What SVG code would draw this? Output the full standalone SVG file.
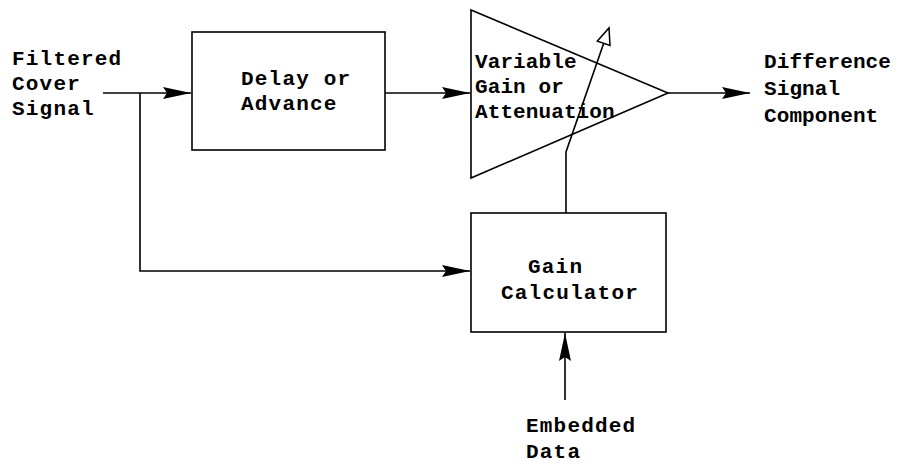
<svg xmlns="http://www.w3.org/2000/svg" width="900" height="464" viewBox="0 0 900 464">
<style>
text{font-family:"Liberation Mono","Courier New",monospace;font-weight:bold;font-size:21px;letter-spacing:1.2px;fill:#000}
.t{letter-spacing:0.1px}
.s{fill:none;stroke:#000;stroke-width:1.6}
.b{fill:#fff;stroke:#000;stroke-width:1.6}
</style>
<defs>
<marker id="ah" markerUnits="userSpaceOnUse" markerWidth="30" markerHeight="14" refX="28" refY="6" orient="auto" viewBox="0 0 30 12">
<path d="M0,0 L28,6 L0,12 L4,6 Z" fill="#000"/>
</marker>
<marker id="oh" markerUnits="userSpaceOnUse" markerWidth="20" markerHeight="16" refX="17" refY="7" orient="auto" viewBox="-2 -1 21 16">
<path d="M0,0 L17,7 L0,14 Z" fill="#fff" stroke="#000" stroke-width="1.6"/>
</marker>
</defs>
<g id="input-label">
<text x="12" y="65">Filtered</text>
<text x="12" y="90">Cover</text>
<text x="12" y="115">Signal</text>
</g>
<g id="delay">
<rect class="b" x="192" y="32" width="193" height="118"/>
<text x="241" y="85">Delay or</text>
<text x="241" y="110">Advance</text>
</g>
<g id="amplifier">
<polygon class="b" points="471,10 471,178 668,93"/>
<text x="475" y="68" class="t">Variable</text>
<text x="475" y="93" class="t">Gain or</text>
<text x="475" y="118" class="t">Attenuation</text>
</g>
<g id="gain-calculator">
<rect class="b" x="471" y="213" width="195" height="119"/>
<text x="528" y="273">Gain</text>
<text x="501" y="299">Calculator</text>
</g>
<g id="output-label">
<text x="764" y="68" class="t">Difference</text>
<text x="764" y="95" class="t">Signal</text>
<text x="764" y="122" class="t">Component</text>
</g>
<g id="embedded-label">
<text x="526" y="432">Embedded</text>
<text x="526" y="458">Data</text>
</g>
<g id="connectors">
<line class="s" x1="103" y1="93" x2="191" y2="93" marker-end="url(#ah)"/>
<polyline class="s" points="140,93 140,271 470,271" marker-end="url(#ah)"/>
<line class="s" x1="385" y1="93" x2="470" y2="93" marker-end="url(#ah)"/>
<line class="s" x1="668" y1="93" x2="750" y2="93" marker-end="url(#ah)"/>
<polyline class="s" points="566,213 566,152 609,28" marker-end="url(#oh)"/>
<line class="s" x1="565" y1="400" x2="565" y2="333" marker-end="url(#ah)"/>
</g>
</svg>
